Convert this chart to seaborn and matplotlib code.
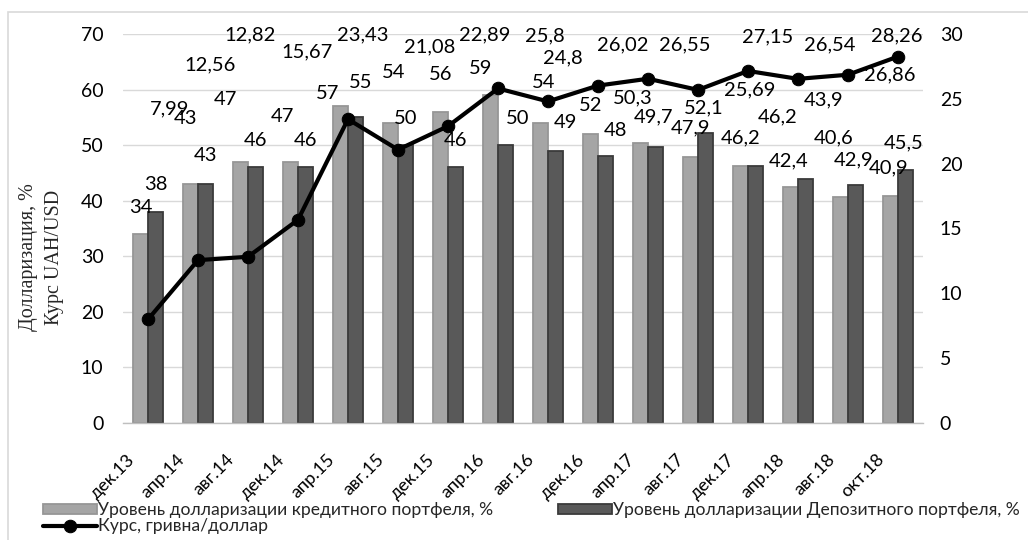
import numpy as np
import pandas as pd
import matplotlib
matplotlib.use("Agg")
import matplotlib.pyplot as plt
import matplotlib.transforms as mtransforms
from matplotlib.patches import Rectangle
import seaborn as sns

# ---- data ----
periods = ["дек.13", "апр.14", "авг.14", "дек.14", "апр.15", "авг.15", "дек.15", "апр.16",
           "авг.16", "дек.16", "апр.17", "авг.17", "дек.17", "апр.18", "авг.18", "окт.18"]
credit_pct = [34, 43, 47, 47, 57, 54, 56, 59, 54, 52, 50.3, 47.9, 46.2, 42.4, 40.6, 40.9]
deposit_pct = [38, 43, 46, 46, 55, 50, 46, 50, 49, 48, 49.7, 52.1, 46.2, 43.9, 42.9, 45.5]
uah_usd = [7.99, 12.56, 12.82, 15.67, 23.43, 21.08, 22.89, 25.8, 24.8, 26.02, 26.55,
           25.69, 27.15, 26.54, 26.86, 28.26]

credit_name = "Уровень долларизации кредитного портфеля, %"
deposit_name = "Уровень долларизации Депозитного портфеля, %"
rate_name = "Курс, гривна/доллар"

# label offsets from each mark, in pixels (dx, dy up)
credit_off = [(0, 27), (-5, 66), (-15, 62), (-8, 45), (-13, 13), (3, 50), (0, 37), (-10, 27),
              (3, 40), (0, 29), (-8, 46), (0, 29), (0, 28), (-2, 27), (-7, 60), (-2, 28)]
deposit_off = [(0, 27), (0, 29), (0, 27), (0, 27), (5, 35), (0, 27), (0, 27), (12, 27),
               (10, 28), (10, 26), (-2, 30), (-2, 26), (22, 49), (18, 79), (-2, 25), (-2, 27)]
rate_off = [(22, 211), (12, 195), (2, 222), (9, 168), (15, 84), (32, 103), (37, 91), (47, 53),
            (15, 44), (25, 41), (37, 34), (52, 0), (20, 34), (32, 34), (42, 0), (-1, 21)]

LIGHT, LIGHT_EDGE = "#a5a5a5", "#969696"
DARK, DARK_EDGE = "#595959", "#3a3a3a"
FS = 14

sns.set_theme(style="white")
plt.rcParams["font.family"] = ["Lato", "DejaVu Sans"]

df = pd.DataFrame({
    "period": periods * 2,
    "value": credit_pct + deposit_pct,
    "series": [credit_name] * len(periods) + [deposit_name] * len(periods),
})

fig = plt.figure(figsize=(10.28, 5.40), dpi=100)
ax = fig.add_axes([123 / 1028, 1 - 423 / 540, 800 / 1028, 389 / 540])

sns.barplot(data=df, x="period", y="value", hue="series",
            hue_order=[credit_name, deposit_name], palette=[LIGHT, DARK],
            width=0.6, linewidth=1.3, ax=ax, legend=False, zorder=2)
for cont, ec in zip(ax.containers, [LIGHT_EDGE, DARK_EDGE]):
    for bar in cont:
        bar.set_edgecolor(ec)

ax2 = ax.twinx()
x_pos = np.arange(len(periods))
sns.lineplot(x=x_pos, y=uah_usd, ax=ax2, color="black", linewidth=3,
             marker="o", markersize=9, markeredgecolor="black", zorder=3)

# primary axis
ax.set_ylim(0, 70)
ax.set_xlim(-0.5, len(periods) - 0.5)
ax.set_yticks(np.arange(0, 71, 10))
ax.yaxis.grid(True, color="#d9d9d9", lw=1)
ax.set_axisbelow(True)
for s in ["top", "left", "right"]:
    ax.spines[s].set_visible(False)
ax.spines["bottom"].set_color("#bfbfbf")
ax.spines["bottom"].set_linewidth(1)
ax.set_xlabel("")
ax.set_ylabel("")
ax.tick_params(axis="y", length=0, pad=14, labelsize=FS, colors="black")

# secondary axis
ax2.set_ylim(0, 30)
ax2.set_yticks(np.arange(0, 31, 5))
for s in ax2.spines.values():
    s.set_visible(False)
ax2.tick_params(axis="y", length=0, pad=12, labelsize=FS, colors="black")
ax2.set_ylabel("")
ax2.set_xlabel("")

# category axis: tick marks at category boundaries, rotated names under centres
ax.set_xticks(x_pos)
ax.tick_params(axis="x", which="major", length=0, labelbottom=False)
ax2.tick_params(axis="x", which="both", length=0, labelbottom=False)
ax.set_xticks(np.arange(-0.5, len(periods), 1), minor=True)
ax.tick_params(axis="x", which="minor", length=6, color="#bfbfbf", width=1)
cat_trans = mtransforms.blended_transform_factory(ax.transData, ax.transAxes) + \
    mtransforms.ScaledTranslation(-16 / 100, -34 / 100, fig.dpi_scale_trans)
for i, name in enumerate(periods):
    ax.text(i, 0, name, transform=cat_trans, rotation=45, rotation_mode="anchor",
            ha="right", va="center", fontsize=13, color="black", clip_on=False)

# data labels
lab_kw = dict(textcoords="offset pixels", ha="center", va="center", fontsize=14.5,
              color="black", annotation_clip=False, zorder=5)
for i in range(len(periods)):
    ax2.annotate(f"{credit_pct[i]:g}".replace(".", ","), xy=(i - 0.15, credit_pct[i]),
                 xycoords=ax.transData, xytext=credit_off[i], **lab_kw)
    ax2.annotate(f"{deposit_pct[i]:g}".replace(".", ","), xy=(i + 0.15, deposit_pct[i]),
                 xycoords=ax.transData, xytext=deposit_off[i], **lab_kw)
    ax2.annotate(f"{uah_usd[i]:g}".replace(".", ","), xy=(i, uah_usd[i]),
                 xytext=rate_off[i], **lab_kw)

fig.text(42 / 1028, 1 - 257 / 540, "Долларизация, %\nКурс UAH/USD", rotation=90,
         ha="center", va="center", multialignment="center", fontsize=14.5,
         family=["Liberation Serif"], linespacing=1.5)

# legend
h_credit = ax.containers[0]
h_dep = ax.containers[1]
h_line = ax2.lines[0]
fig.legend([h_credit, h_line, h_dep], [credit_name, rate_name, deposit_name],
           ncol=2, loc="upper left", bbox_to_anchor=(43 / 1028, 1 - 502 / 540),
           frameon=False, fontsize=12.6, handlelength=3.1, handleheight=0.55,
           handletextpad=0.05, labelspacing=0.02, columnspacing=3.7, borderpad=0,
           borderaxespad=0)

# chart frame
fig.patches.append(Rectangle((8 / 1028, -0.05), 1.1, 1.05 - 12 / 540, transform=fig.transFigure,
                             fill=False, edgecolor="#d9d9d9", lw=1.2, clip_on=False))

fig.savefig("out.png", dpi=100)
